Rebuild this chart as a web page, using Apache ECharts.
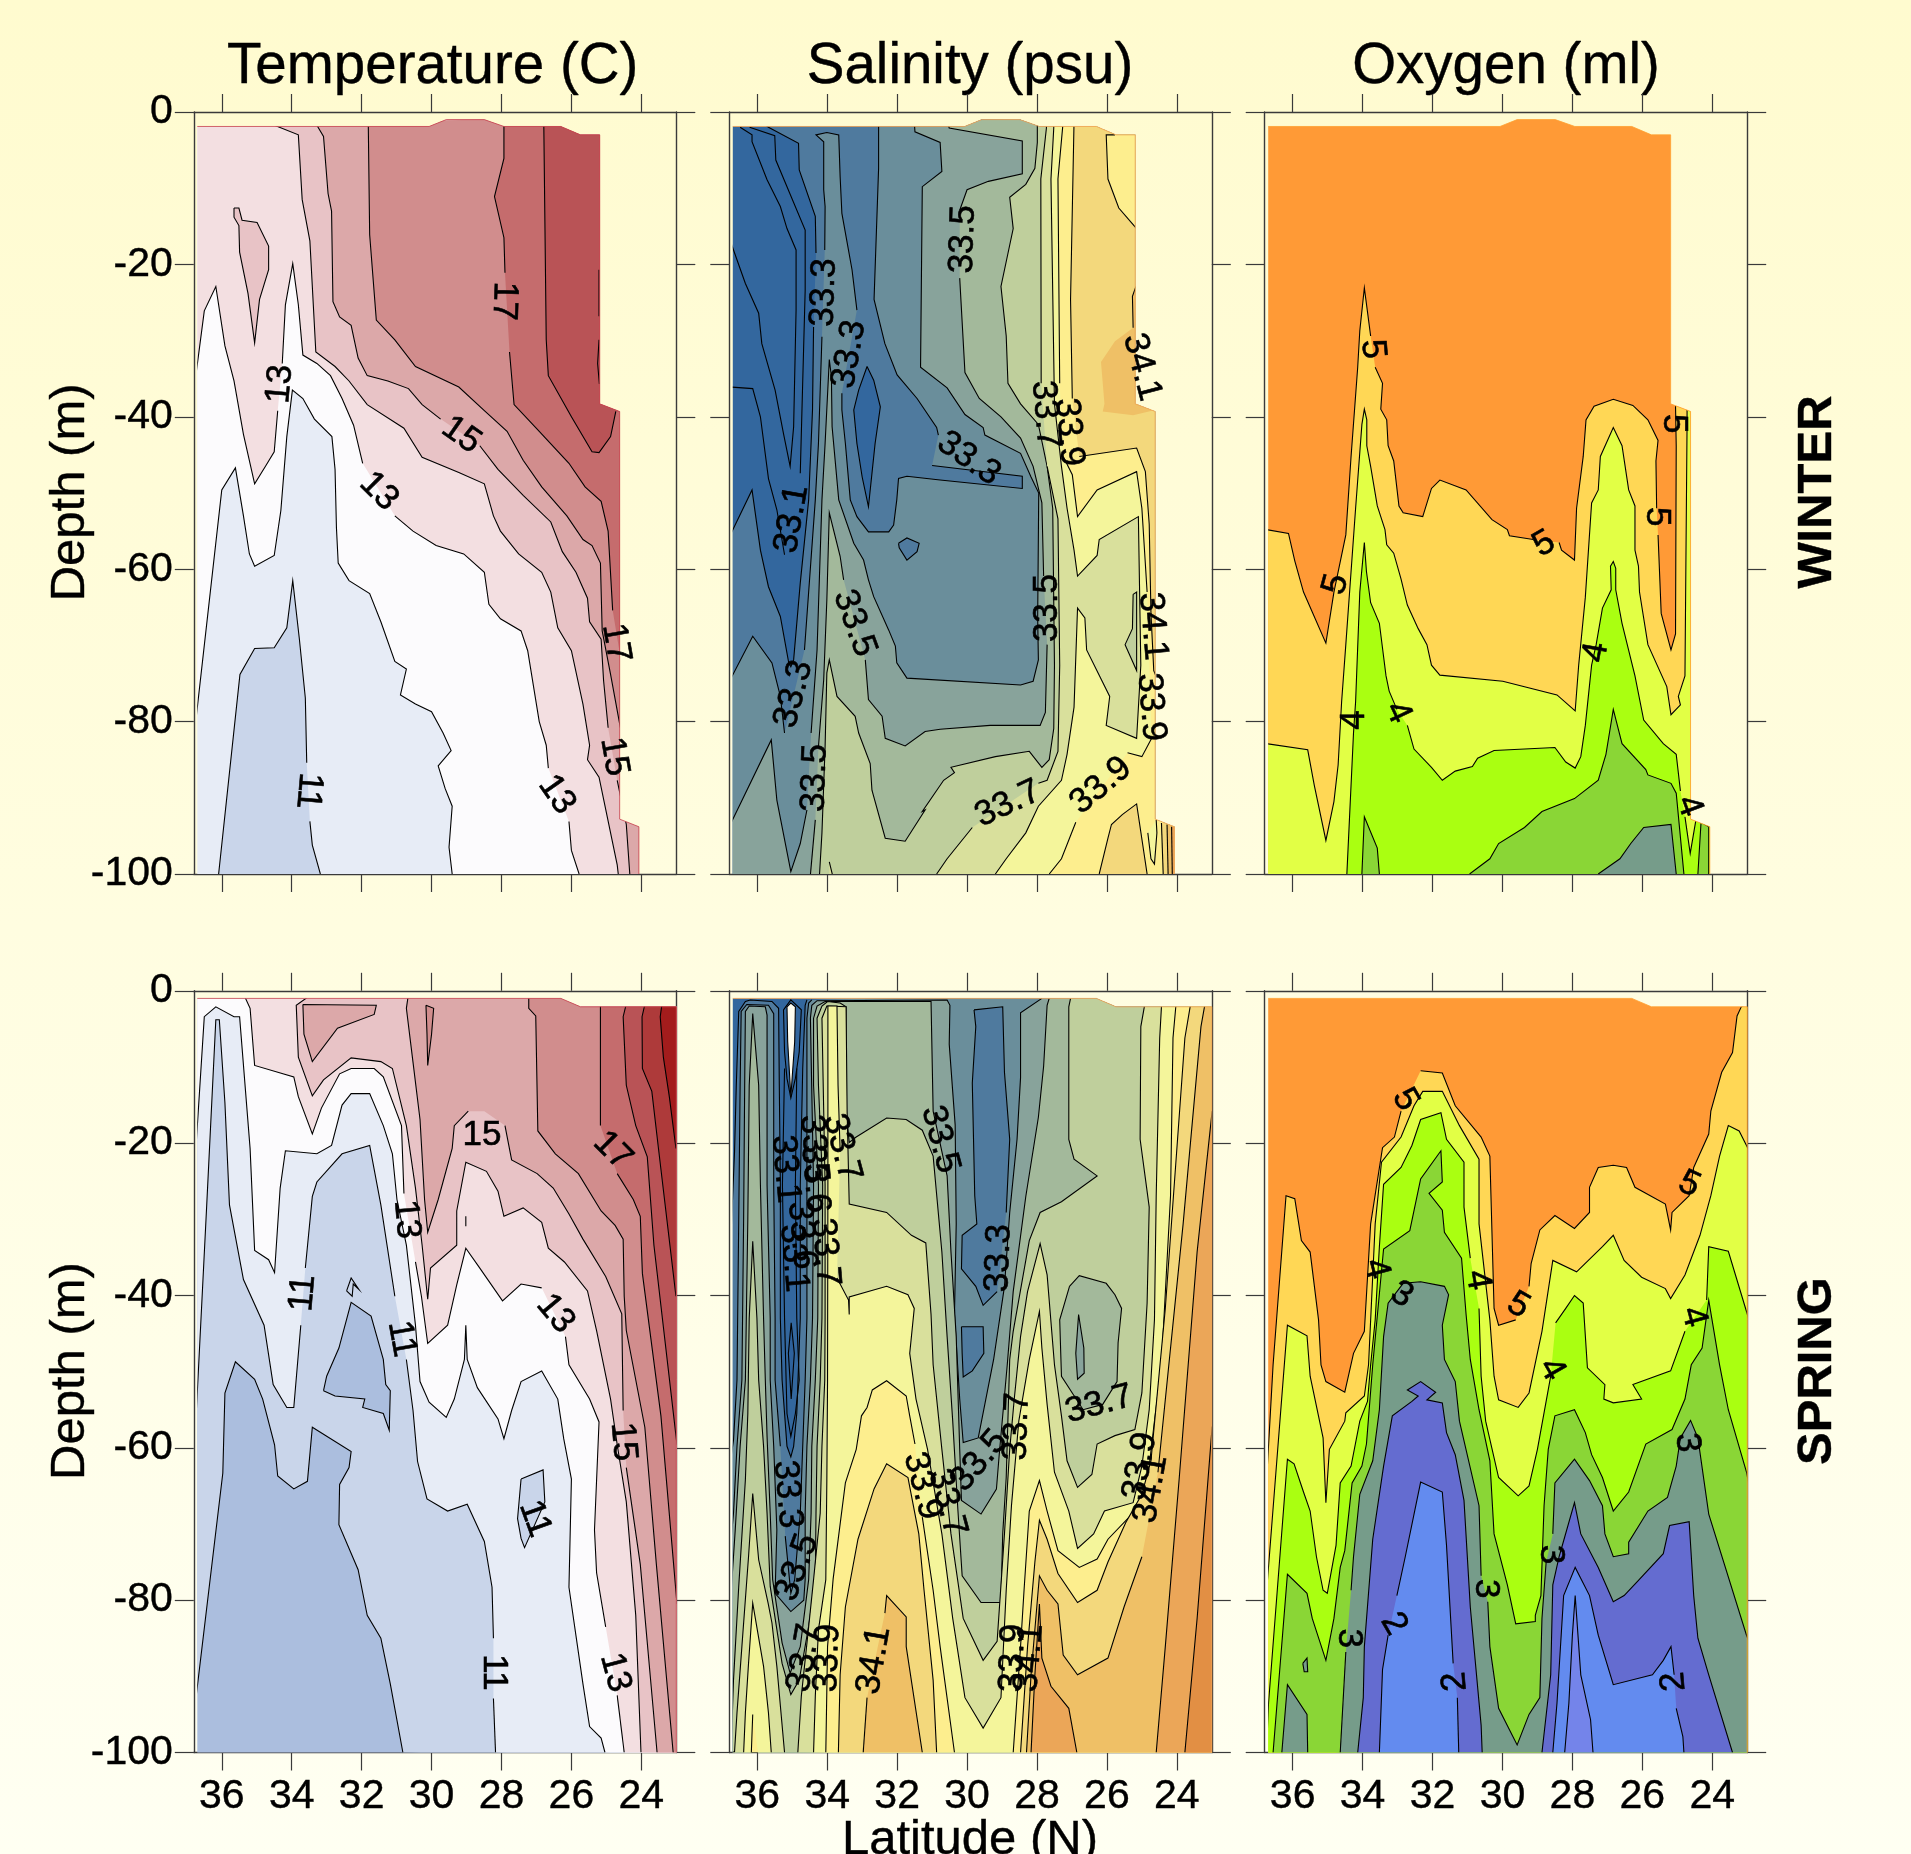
<!DOCTYPE html>
<html><head><meta charset="utf-8">
<script src="https://cdn.jsdelivr.net/npm/echarts@6/dist/echarts.min.js"></script>
<style>html,body{margin:0;padding:0;overflow:hidden}#c{width:1911px;height:1854px}</style>
</head><body><div id="c"></div>
<script>
// All contour arrays are flat lists: latitude (deg N), depth below surface (m). null = label gap in the line.
const latTicks=[36,34,32,30,28,26,24];
const depthTicks=[0,-20,-40,-60,-80,-100];
const columnTitles=['Temperature (C)','Salinity (psu)','Oxygen (ml)'];
const rowTitles=['WINTER','SPRING'];

const domWinter=[36.7,1.9,30.07,1.9,29.58,1,28.49,1,27.93,1.9,26.3,1.9,25.74,3,25.19,3,25.19,38.3,24.62,39.3,24.62,92.8,24.07,93.8,24.07,100,36.7,100];
const domSpring=[36.7,1,26.3,1,25.74,2.1,23,2.1,23,100,36.7,100];

/* ---- Winter temperature ---- */
const wt11=[36.09,100,35.48,73.8,35.06,70.4,34.50,70.3,34.14,67.7,33.97,61.5,33.78,69.2,33.61,76.9,33.57,85.4,null,33.48,93.1,33.41,96.2,33.18,100];
const wt12=[36.75,80.2,36,49.6,35.61,46.7,35.38,53,35.21,58,35.06,59.6,34.5,58.2,34.31,52.3,34.14,42.6,33.98,36.5,33.68,37.6,33.35,40.3,32.85,42.6,32.76,46.9,32.72,54.6,32.67,59.2,32.36,61.5,31.77,63.2,31.45,66.9,31.05,72.1,30.72,73.1,30.89,76.5,30.46,77.7,30,78.7,29.67,81.5,29.44,83.8,29.81,85.8,29.61,88.8,29.41,91.1,29.5,96.5,29.41,100];
const wt13=[36.75,34.9,36.5,26.1,36.17,22.9,35.91,30.7,35.65,35.3,35.38,42.3,35.06,48.8,34.75,46.5,34.5,44.6,34.4,39.2,null,34.27,33,34.18,25.3,33.97,19.9,33.81,25.3,33.68,31.9,33.28,33,32.89,34.6,32.56,37.6,32.23,41.1,31.97,46.1,null,31.05,53,30.53,55,29.87,56.9,29.08,58,28.49,60.4,28.36,64.6,28.03,66.5,27.44,68.1,27.25,70.7,26.92,80,26.72,83.1,26.66,86.1,null,26.07,93.1,26,96.9,25.78,100];
const wt14=[34.62,1.5,33.81,3,33.7,11.5,33.48,16.9,33.31,31.5,32.76,33.4,32.36,35.3,31.84,38.4,30.79,41.5,30.27,45.3,29.22,47.3,28.49,48.8,28.23,53,28.03,55,27.51,58,26.85,60.4,26.59,63,26.39,67.7,26,70.7,25.67,77.7,25.48,83.1,25.54,85,25.21,87.3,24.69,98.8,24.66,100];
const wtIsland=[35.65,12.6,35.51,12.6,35.42,14.2,34.99,14.5,34.66,17.6,34.66,20.7,34.92,24.6,35.06,30.3,35.25,23.8,35.49,18.4,35.51,14.9,35.65,13.8,35.65,12.6];
const wt15=[33.31,1.5,33.09,3.2,32.96,10.7,32.86,13,32.82,24.9,32.63,26.9,32.3,28,32.1,32.3,31.84,34.6,31.25,35.3,30.66,36.3,30.27,38.4,29.74,40.3,null,28.62,43.8,28.1,46.9,27.38,50.3,26.59,53.8,26.26,57.7,25.87,60.4,25.54,63.8,25.48,66.9,25.15,69.2,25.08,74.6,24.95,80.8,null,24.69,87.7,24.43,93.5,24.33,100];
const wt16=[31.81,1.5,31.77,16.1,31.58,27.3,31.05,29.9,30.46,33.4,29.22,36.1,28.49,39.2,27.84,41.9,27.38,45.7,26.85,49.2,26.13,53,25.67,56.1,25.41,56.9,25.17,59.2,25.12,68.1,24.88,73.8,24.6,80.8];
const wt17=[27.93,1.5,27.93,6.1,28.2,11.1,27.93,16.5,27.9,21.1,null,27.77,31.5,27.64,38.4,26.92,41.9,26.07,46.1,25.61,49.2,25.15,51.1,24.95,55,24.82,65.4,null,24.6,71.5];
const wt18=[26.79,1.5,26.72,29.9,26.66,34.6,26,40,25.41,44.6,25.21,44.7,24.88,42.6,24.73,39.3];
const wtDash=[25.21,20.7,25.21,26.8,null,25.21,29.9,25.25,33,25.2,35.7];
const wtLabels=[['17',27.93,24.8,-92],['13',34.33,35.7,85],['15',29.15,42.4,-35],['13',31.51,49.8,-45],['17',24.73,69.7,-80],['15',24.78,84.6,-80],['13',26.42,89.6,-55],['11',33.52,89.1,-95]];

/* ---- Winter salinity ---- */
const wsA=[36.49,2,36.15,3,36.15,3.9,35.72,8.9,35.34,12.4,35.15,15.3,34.89,18.1,34.89,26,34.96,41.3,35.06,46.5,35.25,42.2,35.49,36.5,35.87,30.4,35.96,26.4,36.34,22.5,36.75,17.2];
const wsC=[36.22,2,35.5,3.1,35.47,6.3,34.63,15.5,34.63,23.4,34.77,47.4,null,35.22,58.1,35.44,52.2,35.68,48.1,35.91,40,36.13,36.3,36.75,36.1];
const ws32=[36.75,55.3,36.15,49.6,35.91,57.5,35.68,62.3,35.34,66.2,35.1,72.3,35.04,72.8,34.96,71.9,34.77,61.8,34.53,50.9,34.42,39.1,34.39,28.2,null,34.32,18.5,34.34,13.7,34.8,7.6,34.82,4.1,35.68,2,35.77,1.7];
const ws33=[36.75,74.3,36.13,68.8,35.58,72.3,35.34,76.7,35.22,81.5,null,34.65,70.6,34.34,50.9,34.25,43.5,34.15,29.5,null,34.07,18.1,34.06,12.4,34.1,10.2,34.1,3.9,34.32,3,34.01,2.7,33.67,3,33.63,8.5,33.58,13.3,33.29,20.7,33.15,26,null,33.58,36.9,33.58,39.1,33.48,43.5,33.34,50.9,33.15,53.1,32.82,55.1,32.24,55.1,32.1,54.2,32.01,50.9,31.96,48.1,31.72,47.8,30.77,48.3,28.42,49.4,28.42,47.8,31,46.4,null,30.82,42.4,30.87,41.4,31.43,37.6,32,34.5,32.35,30.4,32.66,24.6,32.53,7.4,32.53,1.2];
const ws34=[36.75,93.3,35.6,82.4,35.44,90.3,35.04,99.7,34.77,96,34.58,91.6,null,34.46,81.5,34.29,70.6,34.15,50.9,34.06,43.5,33.94,32.5,33.88,34.7,33.86,41.3,33.67,50.9,33.24,56.6,32.96,58.8,32.82,61.4,32.67,63.6,32.24,68,32.05,70.1,32.01,72.3,31.72,74.3,28.47,75.2,28.11,74.7,27.96,71.9,27.98,66.4,27.95,50,28.17,47.9,28.47,44.8,29.49,42.4,29.54,41.4,30.06,39.7,30.57,36.2,31.33,33.5,31.28,9.8,30.72,7.8,30.77,4,31.49,2.6,31.51,1.2];
const ws35=[34.48,100.1,34.34,92.9,null,34.25,83.3,34.1,74.5,34.01,64,33.94,52.6,33.63,58.3,33.53,61.4,null,32.91,71.9,32.82,77.1,32.43,79.3,32.34,82.2,31.77,83.2,31.2,81.3,30.77,81,29.34,80.5,27.91,80.5,27.76,78.8,27.71,69.9,null,27.81,60.9,27.86,51.3,28.11,46.5,28.47,42.8,29.03,40,29.65,37.6,30.06,34.2,30.21,21.8,null,30.21,12.9,30,10.2,29.39,9.1,28.42,8.1,28.42,3.8,30.51,2.1,30.57,1.2];
const ws36=[34.22,100.1,34.15,94.6,34.06,83.3,34.01,73.6,33.94,71.9,33.72,76.7,33.2,79.3,33.1,81.5,32.77,85.5,32.72,89,32.34,95.3,31.77,95.7,31.2,91.6,31.28,91.8,30.67,87.7,30.36,86.7,30.46,86,29.19,84.6,28.22,83.9,27.86,86,27.65,85,27.52,80.9,27.5,72.6,27.55,52,27.71,46.5,27.96,41,28.47,38.3,28.83,35.6,28.88,29.4,29.03,22.9,28.68,15.3,28.78,11.2,28.32,9.5,28.06,7.4,27.99,4,27.99,1.2];
const ws37=[30.87,100,30.57,98,29.85,93.9,null,27.96,88.1,27.71,87.7,27.4,83.9,27.35,72.6,27.4,53.4,27.71,46.5,null,27.88,35.6,27.89,8.8,27.73,2.1,27.73,1.2];
const ws38=[29.19,100,28.88,98,28.32,94.6,27.96,91.1,27.3,87.7,27.14,84.3,26.94,78.1,26.84,65.1,26.63,66.4,26.58,70.6,25.92,76.7,26.02,80.5,25.15,82.2,25.03,72.6,25.1,53.1,26.22,56.1,26.28,58.2,26.84,60.9,26.94,57.5,27.14,52,27.3,46.5,27.5,38.3,27.6,8.8,27.52,2.1,27.52,1.2];
const wsIslandC6=[25.25,63.3,25.15,63,25.15,73.3,25.48,69.9,25.27,67.8,25.25,63.3];
const ws39=[27.25,1.2,27.4,8.8,27.35,35.6,null,27.25,45.2,26.99,47.6,26.84,53.1,26.28,49.6,25.15,47.2,25,52,24.85,63,null,24.72,82.2,25,84.6,25.41,84.1,null,26.89,93.2,27.3,98,27.65,100];
const ws40=[26.94,1.2,27.04,24.6,26.99,37.6,null,26.79,45.2,25.15,44.1,24.9,47.2,24.79,54.1,24.74,65.8,24.66,73.3,24.54,74.7];
const ws40b=[26.22,100,25.97,95.3,25.87,93.5,25.56,92.2,25.15,90.8,24.85,100];
const wsTopIsland=[25.77,3,26.02,3,25.97,8.8,25.66,12.6,25.15,15.3,24.9,15.3,24.9,3];
const wsPatchLine=[25.17,22.9,25.27,24.2,25.25,28.3];
const wsPatchFill=[25.17,22.9,25.27,24.2,25.25,28.3,25.77,30.1,26.17,32.8,26.07,38.3,26.12,39.3,25.25,39.8,24.62,39.1,24.5,25];
const wsStripe1=[24.44,93.3,24.39,100,24,100,24,93.3];
const wsStripe2=[24.28,93.5,24.25,100,24,100,24,93.5];
const wsStripe3=[24.15,93.8,24.13,100,24,100,24,93.8];
const wsWedge=[24.83,94.6,24.74,98,24.64,98.7,24.57,94.6,24.59,92.9];
const wsSmallC3=[31.96,56.6,31.72,55.9,31.37,56.6,31.43,57.7,31.72,58.8,31.94,57.2,31.96,56.6];
const wsDarkIsland=[32.86,33.4,32.67,35.2,32.48,38.7,32.63,43.5,32.82,51.8,33,47.9,33.15,43.5,33.24,39.1,33.1,36.5,32.86,33.4];
const wsTinyC7=[33.94,98.4,33.85,100.1,33.94,100.1];
const wsLabels=[['33.5',30.11,16.7,88],['33.3',34.09,23.7,88],['33.3',33.37,31.8,80],['33.7',27.76,39.7,-85],['33.9',27.09,42,-85],['33.3',29.95,45.5,-35],['33.1',35.01,53.4,80],['33.5',33.22,67.1,-70],['33.5',27.71,65.1,90],['34.1',25,33.5,-75],['34.1',24.69,67.5,-85],['33.9',24.74,78.1,-85],['33.3',34.96,76.4,75],['33.5',34.35,87.4,88],['33.7',28.83,90.8,25],['33.9',26.17,88.4,40]];

/* ---- Winter oxygen ---- */
const wo50=[36.75,54.8,36.12,55.3,35.94,58.9,35.69,63,35.05,69.7,34.82,63,34.48,55.5,34.33,45.2,34.14,33.5,34.08,28.7,33.95,23.1,33.77,29.4,null,33.64,33.5,33.43,35.6,33.48,39,33.31,40.4,33.27,43.8,33.11,45.8,32.96,51.7,32.84,52.6,32.28,53.1,32.03,49.4,31.79,48.3,31.04,49.6,30.3,53.5,29.86,54.8,29.8,55.6,29.12,56.1,null,28.38,56.5,28.31,57.5,27.94,58.8,27.88,52,27.69,45.2,27.61,40.4,27.38,38.6,26.83,37.7,26.27,38.5,25.84,40.4,25.55,43.1,25.61,45.8,25.59,52,null,25.55,55.5,25.46,65.8,25.18,70.6,25.05,68.5,25.03,43.8,25.05,38.6];
const wo45=[36.75,82.9,35.57,83.7,35.38,88.4,35.05,95.6,34.82,90.5,34.7,85.7,34.6,77.4,34.48,69.9,34.2,52,34.02,41,33.95,39,33.88,40.4,33.88,43.8,33.77,46.5,33.58,51.7,33.36,54.8,33.31,56.8,33.11,57.9,32.9,61.3,32.72,64.7,32.41,67.8,32.16,69.9,32.03,72.6,31.79,73.9,29.99,74.7,28.44,76.5,27.92,78.6,27.82,72.6,27.63,63.7,27.45,51.3,27.26,49.6,27.2,45.2,26.83,41.4,26.58,43.8,26.39,49.6,26.21,51.7,26.21,57.5,26.11,59.6,26.08,63,25.84,69.9,25.3,75.4,25.18,79.1,24.91,77.8,24.97,76.7,24.78,74,24.72,41,24.72,39];
const wo40=[34.45,100,34.26,81.5,34.2,77.4,34.08,63,33.95,56.5,33.89,60.3,33.77,64.4,33.52,67.1,33.33,74,33.24,76,33.02,78.4,null,32.72,80.5,32.53,83.6,32.03,86,31.72,87.7,31.35,86.5,30.86,85.9,30.71,84.8,30.24,83.8,28.5,83.4,28.19,85.3,27.92,86.1,27.76,84.6,27.63,80.5,27.45,72.6,27.32,69.9,27.14,65.1,26.89,62.7,26.91,59.6,26.83,59,26.76,59.9,26.76,62.7,26.58,67.1,26.21,74,25.96,79.8,25.4,82.9,25.03,84.3,24.91,89.1,null,24.78,92.5,24.63,97.3,24.47,93];
const wo35=[30.94,100,30.36,98,30.11,96,29.37,93.9,28.87,91.8,27.94,90.1,27.26,87.7,27.04,84.3,26.83,78.4,26.58,82.9,25.9,86.3,25.84,87,25.18,88.1,25.03,89.4,24.81,100];
const wo35b=[34.02,100,33.95,92.5,33.58,96.6,33.52,100];
const wo35c=[24.41,100,24.32,93.2,24.1,93.8,24.1,100];
const wo30=[27.26,100,26.64,98,26.33,96,25.96,93.9,25.18,93.5,25.03,100];
const woLabels=[['5',33.71,31.1,-85],['5',34.76,62,75],['5',28.81,56.7,30],['5',25.09,40.9,-90],['5',25.59,53.1,-90],['4',34.23,79.8,90],['4',32.99,78.8,-65],['4',27.32,70.9,80],['4',24.66,91.1,-70]];

/* ---- Spring temperature ---- */
const st10=[36.75,93.3,35.97,63.3,35.91,52.8,35.61,48.7,35.06,51,34.83,53.6,34.49,59.6,34.4,63.7,33.94,65.4,33.55,64.4,33.41,57.3,32.3,60.5,32.36,62.6,32.63,64.8,32.65,70.1,32.1,76,31.84,82,31.45,85,31.18,91,30.82,100];
const stIsle10=[33.09,52.5,33,50.6,32.65,46.9,32.3,40.9,31.73,42.7,31.38,48.4,31.31,51.7,31.18,52.5,31.21,57.7,31.38,55.5,31.97,54.7,31.91,53.6,32.76,53.2,33.09,52.5];
const stIsle10b=[32.43,39.4,32.3,37.7,32.08,39.2,32.24,38.5,32.27,40.1,32.43,39.4];
const st11=[36.75,57.3,36.43,28.1,36.17,3.8,36.07,3.8,35.91,14.7,35.78,28.1,35.38,37.9,34.79,43.9,34.53,51.7,34.14,54.7,33.94,54.7,33.74,43.9,null,33.61,36.4,33.41,27,33.28,25.1,32.56,21.4,31.77,20.3,31.45,28.1,31.05,40.1,null,30.72,48.4,30.53,55.1,30.4,61.8,30.13,66.7,29.54,68.3,28.98,67.4,28.49,72.3,28.27,78.3,28.23,85,null,28.23,92.9,28.17,100];
const stIsle11=[27.44,64.1,26.81,62.9,26.76,67.1,27.34,73.1,27.44,71.9,27.54,69.3,27.44,64.1];
const st12=[36.75,21.4,36.5,3.4,36.17,2.1,35.65,3.4,35.49,3.4,35.19,20.7,35.06,34.1,34.66,35.3,34.49,37,34.33,25.9,34.18,21,33.28,21.4,32.86,20.3,32.56,15,32.3,13.5,31.77,13.5,31.38,17.7,31.12,21.4,30.99,27.4,30.72,33.4,30.46,43.9,30.33,51.3,30.07,54,29.58,56,29.35,53.6,29.06,48.4,29.02,43.9,28.98,48.4,28.69,52.1,28.1,56.2,27.93,58.8,27.71,55.1,27.44,51.3,26.85,49.9,26.39,53.6,26.22,58.8,26,64.1,26.07,78.3,25.67,91,25.48,96.6,25.15,98.1,25.04,100];
const st13=[35.38,0.4,35.19,2.3,35.06,9.8,33.94,11.3,33.81,13.9,33.41,18.8,33.15,15.4,32.63,10.9,32.3,10.2,31.64,10.2,31.38,11.3,30.86,17.7,30.79,26.6,null,30.46,35.6,30.29,40.1,30.11,46.3,29.54,43.9,29.28,38.6,29.02,33.8,28.62,36.4,27.97,40.7,27.44,38.5,26.85,39,null,26.17,45.4,26.07,49.1,25.48,53.6,25.21,56.6,25.34,70.8,25.28,76.4,25.02,83.5,null,24.69,92.5,24.49,100];
const stTick13=[29.02,29.6,29.02,30.9];
const st14=[33.41,0.4,33.87,1.9,33.81,8.7,33.41,13.8,33.09,11.7,32.3,8.8,31.45,9.3,31.12,10.2,30.72,17.7,30.46,25.9,30.27,33.4,30.11,40.5,30.03,36.4,29.28,33.4,29.28,28.9,29.02,22.5,28.43,23.7,28.1,26.3,27.93,29.6,27.38,28.5,26.85,30.4,26.66,33.8,26.2,35.6,25.54,39.4,25.28,44.6,24.88,53.6,24.69,59.6,24.43,67.1,24.16,82,24.01,100];
const stIsle15=[33.68,1.8,31.58,1.9,31.64,3.1,32.69,4.9,33.41,9.3,33.65,5.7,33.68,1.8];
const st15=[30.66,0.4,30.72,2.3,30.53,9.4,30.33,16.9,30.2,27.4,30.11,31.7,29.81,27.4,29.41,20.7,29.35,17.7,28.95,15.8,null,28.49,15.8,null,27.9,17.7,27.71,22.2,26.98,24,26.52,25.9,26.07,29.3,25.67,32.6,25.02,37.5,24.56,42.4,24.52,55.1,null,24.43,62.6,24.03,75.3,23.55,100];
const stIsle16=[30.16,1.9,29.94,2.3,30,5.7,30.11,9.8,30.13,5.7,30.16,1.9];
const st16=[27.22,0.4,27.22,2.3,27.02,3.3,26.96,18.4,26.46,21.4,25.8,24,25.15,28.9,24.75,30.8,24.52,32.6,24.49,40.1,24.43,44.6,23.9,57.3,23.57,75.3,23.09,100];
const st17=[25.17,0.4,25.17,17.7,null,24.69,24,24.23,27.4,24.03,29.6,23.97,37.1,23.44,55.8,22.98,80.5];
const st18=[24.36,0.4,24.52,3.4,24.43,12.4,24.16,17.7,23.83,21.8,23.64,33.4,22.98,59.6];
const st19=[23.83,0.4,23.98,3.4,23.97,10.2,23.7,13.2,23.51,20.7,23.01,40.1];
const st20=[23.37,0.4,23.46,3.4,23.37,8.7,23.2,13.9,23.01,20.7];
const stLabels=[['11',33.68,39.7,85],['11',30.86,45.7,-80],['11',28.23,89.5,-90],['11',27.05,69.3,-70],['13',30.72,30,-85],['13',26.46,42.4,-50],['13',24.75,89.5,-75],['15',28.56,19,0],['15',24.52,59.2,-85],['17',24.82,21,-45]];

/* ---- Spring salinity ---- */
const ss32=[36.75,32,36.65,21.1,36.6,12.4,36.53,2.7,36.34,1.4,36.2,1.2,35.58,1.4,35.39,2.3,35.37,12.4,35.34,25.5,35.34,43,35.29,51.1,35.15,59.8,35.04,61.2,34.96,59.8,34.87,55.5,34.77,43,34.77,25.5,34.7,10.2,34.63,1.9,34.58,1.2];
const ss33=[36.75,61.2,36.68,59,36.58,51.1,36.53,29.9,36.49,12.4,36.46,2.7,36.3,1.8,35.68,1.9,35.53,3,35.53,25.5,35.49,43,35.49,51.1,35.34,59.8,null,35.2,71.6,35.04,79.1,34.93,77.3,34.77,68.6,34.7,59.8,34.63,51.1,34.58,43,34.58,25.5,34.58,3.6,34.53,1.6,34.44,1.2];
const ss34=[36.75,72.1,36.68,68.6,36.58,59.8,36.44,51.1,36.39,29.9,36.36,12.4,36.34,2.7,36.23,2,35.77,2.1,35.72,3.2,35.72,25.5,35.63,43,35.63,51.1,35.53,59.8,35.44,70.8,35.49,79.1,35.04,81.5,34.67,80,34.63,77.3,34.63,68.6,34.58,59.8,34.48,51.1,34.42,43,34.39,25.5,34.48,3.6,34.44,1.9,34.29,1.3,30.57,1.2,30.49,1.9,30.51,7,30.34,17.6,30.31,30.6,30.36,42.5,30.21,53.6,30.11,59.3,29.68,58.7,29.24,48.4,28.93,38.8,28.78,29.1,28.57,19.5,28.47,11.4,28.47,2.9,27.86,1];
const ss35=[36.75,79.1,36.63,70.8,36.49,59.8,36.34,51.1,36.27,29.9,36.23,12.4,36.13,3,35.96,12.4,35.91,25.5,35.82,43,35.77,51.1,35.72,58.5,35.63,68.6,35.56,77.3,35.29,85.6,35.06,89.6,34.77,86.1,34.53,77.3,34.46,68.6,34.44,59.8,34.34,51.1,34.27,43,34.25,25.5,34.39,12.4,34.39,3.6,34.29,2,34.06,1.4,33.53,1.4,31.03,1.4,30.97,15.8,30.57,24.3,30.46,34.3,30.31,45.4,30.21,60.2,30.16,66.9,29.6,68.7,29.16,65.4,29.08,60.9,28.85,49.1,28.68,39.5,28.32,27,27.96,16.6,27.81,9.9,27.71,1.9,27.65,1];
const ss36=[36.75,99.9,36.68,90.5,36.53,78.2,36.34,64.2,36.27,55.5,36.23,43,36.13,32.9,36.01,43,35.96,51.1,35.82,59.8,35.72,68.6,35.63,78.2,35.29,88.3,35.04,92.4,34.8,90.5,34.53,83.4,34.34,77.3,34.32,68.6,34.29,59.8,34.2,51.1,34.15,43,34.13,25.5,34.25,12.4,34.29,3.6,34.15,2,33.99,1.4,33.63,1.6,33.46,2.1,33.46,15.8,33.37,19.9,33.17,19.2,32.3,16.7,31.74,16.9,31.28,18.3,30.97,21.7,30.72,34.3,30.57,45.4,30.41,56.5,30.26,68.3,30.14,76.8,29.6,80.3,29.03,80.3,28.98,71.3,28.88,63.9,28.78,48.4,28.68,44.7,28.22,32.8,27.91,29.1,27.3,27.7,26.28,24.3,26.94,22.1,27.09,19.5,27.09,2.1,27.04,1];
const ss37w=[36.75,100,36.65,99.9,36.58,94.8,36.44,86.1,36.25,74.3,36.13,66,35.96,74.7,35.69,80.4,35.58,83,35.44,88.7,35.22,100];
const ss37e=[34.84,100,34.74,92.6,34.53,83.5,34.39,77.3,34.2,68.6,34.15,59.8,34.07,51.1,34.06,43,34.06,25.5,34.15,3.6,34.01,2,33.46,2.1,33.43,15.8,33.37,28,32.3,29.1,31.59,32.1,31.18,33.1,31.03,42.5,30.97,49.1,30.72,60.2,30.46,71.3,30.11,82.4,29.54,87.9,29.14,85.4,28.93,71.3,28.78,60.2,28.65,53.6,28.47,45.4,28.27,39.5,27.91,33.2,27.71,37.3,27.5,49.1,27.3,55.8,27.14,61.7,26.84,65.2,26.43,63.5,26.28,59.5,25.77,58.4,25.2,57.6,25,52.8,24.85,41,24.79,28.4,25.05,19.5,25.03,4.7,24.93,2.1,24.9,1];
const ss38w=[36.39,100,36.34,94.8,36.25,88.3,36.13,80.4,35.82,88.7,35.68,94.8,35.6,100];
const ss38e=[34.39,100,34.34,92.6,34.25,83.9,34.04,77.3,34.01,64.2,33.99,51.1,33.98,25.5,33.98,2,33.72,2,33.69,12.4,33.63,21.1,null,33.72,37.7,33.39,40.6,33.37,42.5,33.37,40.2,32.3,38.8,31.69,39.9,31.51,41.7,31.64,47.6,31.46,53.6,31.13,60.2,30.72,71.3,30.41,82.4,30.06,92.8,29.54,96.8,29.03,92.8,28.88,78.7,28.73,67.6,28.52,56.5,28.22,48.4,27.93,42.1,27.86,46.9,27.71,54.3,27.5,63.2,27.09,68.3,26.84,73.2,26.38,71.3,26.07,68.3,25.25,67.2,25,62.4,24.79,55,24.64,43.2,24.59,26.9,24.49,6.2,24.44,2.1,24.39,1];
const ss39w=[36.13,95,36.17,100,35.98,100];
const ss39c=[34.04,100,33.99,86.1,33.83,77.2,33.48,64.6,33.17,60.2,33.02,55.8,32.86,54.7,32.71,52.4,32.3,51.2,31.74,53.2,31.64,55.8,31.49,59.5,null,31.28,69.1,30.97,78.7,30.77,86.1,30.36,100];
const ss39e=[28.68,100,28.47,86.1,28.37,78.7,28.22,68.3,27.93,64.3,27.71,68.3,27.4,73.5,26.79,75.7,26.28,74.6,25.97,72,25.05,67.6,24.79,62.4,24.64,56.5,24.44,49.1,24.18,26.9,24.11,6.2,24.03,2.1,23.98,1];
const ss40c=[33.68,100,33.63,89.8,33.48,80.9,33.12,72,32.66,65.4,32.3,62.1,31.69,63.9,31.38,71.3,31.23,78.7,30.97,90.5,30.87,100];
const ss40e=[28.47,100,28.27,86.1,28.06,75,27.93,69.5,27.71,72,27.4,76.5,26.84,80.3,26.28,78.7,25.97,75,25.46,69.8,25,66.1,24.74,61.7,24.33,41.7,23.77,6.2,23.62,2.1,23.57,1];
const ss41c=[32.97,100,32.86,92.8,null,32.35,81.7,32.3,79.4,31.74,82.2,31.74,86.1,31.28,100];
const ss41e=[28.3,100,28.17,89.8,27.93,76.8,27.71,78.7,27.4,80.5,27.25,87.2,26.84,89.8,25.97,87.6,25.51,80.9,25,74.3,null,24.54,63.2,23.82,30.6,23.31,4.7,23.21,2.1,23.16,1];
const ss42w=[28.17,100,28.06,89.8,27.93,80.5,27.86,87.6,27.6,91.3,27.09,94.2,26.86,100];
const ss42e=[24.59,100,24.33,86.1,23.93,63.9,23.42,34.3,22.99,15.8];
const ss43=[23.77,100,23.42,82.4,22.99,57.2];
const ssIsleC5=[27.07,38.8,26.79,37.4,26.02,38.4,25.77,39.9,25.58,41.7,25.68,46.2,25.71,51.3,26.12,54.3,26.68,55,27.3,50.6,27.35,43.2,27.07,38.8];
const ssIsleC4=[26.81,42.5,26.66,46.9,26.65,50.2,26.84,51,26.89,47.6,26.81,42.5];
const ssBlue1=[29.8,2.5,28.98,2.1,28.93,10.7,28.78,19.5,28.88,29.1,null,29.14,39.5,29.54,41.3,29.75,38.8,30.16,36.5,30.14,32.1,29.72,30.6,29.78,26.9,29.85,12.1,29.75,4.7,29.8,2.5];
const ssBlue2=[30.16,44.1,29.54,44.1,29.52,47.6,29.85,49.9,30.11,50.7,30.14,47.6,30.16,44.1];
const ssInner31=[35.22,10.2,35.28,25.5,35.22,43,35.15,55.5,35.04,58.5,34.91,55.5,34.8,51.1,34.87,43,34.91,25.5,34.87,10.2];
const ssArc=[35.25,2.5,35.04,1.2,34.74,2.5,34.8,8,34.91,11.5,35.04,14.1,35.15,11.5,35.22,8,35.25,2.5];
const ssWhite=[35.15,2.1,35.04,1.6,34.91,2.1,34.93,6.7,35.04,13.9,35.13,6.7,35.15,2.1];
const ssSpindle=[35.03,43.6,35.11,47.6,35.03,53.6,34.94,47.6,35.03,43.6];
const ssLabels=[['33.1',35.2,23.4,-85],['33.5',34.39,20.7,-85],['33.7',33.58,20.6,-75],['33.6',34.35,24.7,-85],['33.6',34.73,32.1,-85],['33.1',34.96,35.1,-85],['33.7',34.06,34.3,-85],['33.5',30.77,19.5,-75],['33.3',29.09,35.1,88],['33.7',26.22,54.3,15],['33.5',29.65,61.7,50],['33.7',28.57,57.2,88],['33.9',31.28,65,-75],['33.7',30.57,67.2,-75],['33.9',25.05,62.4,80],['34.1',24.74,65.4,80],['33.3',35.14,66.1,-85],['33.5',34.86,75.7,70],['33.7',34.65,87.6,80],['33.9',33.99,87.6,88],['34.1',32.66,87.9,80],['33.9',28.68,87.6,88],['34.1',28.22,87.6,85]];

/* ---- Spring oxygen ---- */
const so50=[36.75,64.6,36.56,49.1,36.19,26.9,35.94,27.3,35.75,32.8,35.5,34.3,35.26,43.2,35.19,49.1,35.05,51.3,34.51,52.7,34.26,47.6,33.95,44.7,33.77,30.6,33.43,20.6,33.09,19.2,32.9,15.8,null,32.34,10.5,31.72,10.8,31.35,15.1,30.61,19.2,30.36,21.7,30.24,41.7,30.11,43.9,29.62,43.2,null,29.24,38.8,29.18,35.8,28.93,31.4,28.5,29.5,27.94,31.2,27.51,29.1,27.51,25.8,27.26,23.2,26.83,22.9,26.45,23.2,26.21,25.8,25.34,28,25.19,31.4,25.15,29.1,24.66,26.9,24.53,23.2,24.1,18.8,24.04,15.8,23.73,10.7,23.42,8.1,23.29,3.3,23.17,2.1,23.05,1.8,22.9,1.8];
const so45=[36.75,79.1,36.15,43.9,35.59,45.3,35.5,50.6,35.13,58.7,35.05,67.2,34.95,60.2,34.51,56.5,34.48,55.4,33.95,53.2,33.83,49.1,33.64,30.6,33.46,22.5,32.9,19.2,32.53,15.1,32.28,13.2,31.72,13.2,31.23,17.7,30.67,22.1,30.67,30.6,30.36,43.2,30.24,50.6,30.11,53.7,29.55,54.7,29.24,52.8,28.87,44.7,28.56,35.4,27.88,36.9,27.14,33.6,26.83,32.1,26.52,35.4,26.02,37.6,25.34,39.1,25.19,40.4,24.78,37.3,24.35,32.1,24.04,26.9,23.79,21.7,23.54,17.7,23.23,18.4,23.02,20.3,22.9,21.5];
const so40=[36.75,100,36.69,93.5,36.15,61.5,35.96,62.1,35.69,65.8,35.5,68.3,35.32,74.3,35.13,78.7,35.01,79.1,34.76,72.8,34.64,64.6,34.33,62.4,34.08,56.5,33.86,53.9,33.77,49.1,33.64,43.2,33.52,33.6,33.4,25.4,32.9,23.2,32.59,20.3,32.34,16.9,31.76,16,31.6,19.5,31.1,22.5,31.1,28.4,30.92,35.1,null,30.67,41.7,30.61,50.6,30.48,56.5,30.11,63.9,29.55,66.3,29.24,65,29,60.2,28.62,50.6,null,28.48,43.6,28.19,41.7,27.94,40,27.69,41,27.57,49.5,27.07,51.7,27.1,53.6,26.83,54.1,26.02,53.6,26.27,51.7,25.19,49.9,24.78,44.7,null,24.16,40.6,24.1,33.6,23.54,34.2,23.02,42.1,22.9,44];
const so35=[36.56,100,36.15,76.6,35.59,79.1,35.44,82.4,35.05,87.9,34.82,82.4,34.64,75.7,34.51,73.5,34.3,64.6,34.02,62.4,33.89,59.5,33.71,49.1,33.4,33.9,32.65,31.5,32.34,24.7,31.76,21,31.72,25.1,32.1,26.6,31.72,28.8,31.66,31.7,31.17,35.1,31.04,42.5,30.92,48.4,30.67,55,30.36,61.7,30.24,71.3,29.86,78,29.62,83.1,29.06,82.8,29.06,82,28.9,79.4,28.81,67.6,28.69,60.2,28.5,55.8,27.94,55,27.63,58,27.45,60.9,27.14,63.9,26.83,68.3,26.39,65.8,25.9,59.5,25.15,57.6,24.78,53.6,24.6,49.1,24.29,46.9,24.1,40.6,23.79,49.1,23.54,55,23.02,63.2,22.9,66];
const so30=[34.64,100,34.48,86.8,null,34.33,78.7,34.26,74.3,34.08,66.1,33.71,61.7,33.52,55,33.4,45.4,33.27,41,32.84,38.4,32.34,38.2,31.66,38.8,31.54,39.9,31.72,43.9,31.66,48.4,31.35,51.3,31.23,56.5,30.67,67.6,30.61,76.8,null,30.42,80.2,30.36,86.1,30.11,94.2,29.58,99,29.24,95,28.93,92.8,28.87,82.4,28.75,75,null,28.56,71.3,28.5,64.6,27.94,61.5,27.51,64.3,27.14,67.6,27.07,71.3,26.83,74.3,26.39,73.9,26.39,72.4,25.84,68.3,25.28,66.5,25.03,62.4,24.91,58.7,24.62,56.4,24.41,58.7,24.1,68.7,23.02,84.6,22.9,86];
const so30b=[36.31,100,36.15,91.1,35.59,95,35.57,100];
const so30c=[35.71,88.3,35.59,87.6,35.57,89.4,35.67,89.4,35.71,88.3];
const so25a=[34.14,100,33.98,92.8,33.95,86.1,33.71,72,33.4,62.4,33.15,55.8,32.59,53.9,32.41,53.2,32.72,52.4,32.34,51.3,31.91,52.7,32.16,53.7,31.72,54.1,31.6,58,31.35,60.9,31.1,66.9,30.92,80.9,30.61,96.4,30.58,100];
const so25b=[28.87,100,28.62,89.8,28.56,78,28.38,74.3,27.94,67.2,27.76,71.3,27.26,75.7,26.83,80.2,26.52,79.4,26.15,77.6,25.4,73.9,25.22,70.2,24.66,69.7,24.53,79.4,24.41,85,24.1,89.8,23.42,100];
const so20a=[33.52,100,33.43,89.1,33.27,84.6,null,33.02,79.4,32.78,74.3,32.34,64.5,31.72,65.8,31.6,72.8,31.41,88.3,null,31.29,92.8,31.25,100];
const so20b=[28.56,100,28.44,93.5,28.25,79.4,27.92,75.7,27.51,79.4,27.26,84.6,26.83,91.1,25.71,89.8,25.4,87.9,25.18,86.1,25.09,89.8,null,25.03,94.2,24.84,97.9,24.81,100];
const so15=[28.22,100,28.1,93.5,28,84.6,27.92,79.4,27.84,84.6,27.76,89.8,27.48,95.7,27.41,100];
const soLabels=[['5',32.78,14.3,-60],['5',24.66,25.4,-25],['5',29.55,41.3,-30],['4',33.61,36.5,-75],['3',32.88,39.9,-30],['4',30.71,38,-80],['4',28.59,49.7,-60],['4',24.53,42.8,-75],['3',24.72,59.3,-85],['3',28.62,74,-90],['3',30.48,78.5,-90],['3',34.39,85,-90],['2',33.11,83.1,-60],['2',31.35,90.7,95],['2',25.09,90.7,95]];

/* ---- Colours and closures ---- */
const T=['#ABBEDE','#C9D5EA','#E7ECF6','#FCFBFD','#F3DFE1','#E8C3C6','#DCA8A9','#D18D8D','#C56C6D','#B95356','#AE3A3A','#A31C1C'];
const S=['#33679E','#4F7A9E','#6A8E9B','#88A39B','#A3B99B','#BFCF9C','#D9E09C','#F4F59B','#FDEE8E','#F3D87C','#EFC066','#EBA658','#E28F44'];
const O=['#FF9A36','#FFD755','#E2FF45','#AAFF11','#8AD636','#769C8A','#646CD0','#638BEF','#7484EA'];
const AROUND=[22.9,101,22.9,0,37,0];       // end at bottom, start on left edge: keep everything above and right
const RIGHT=[22.9,101,22.9,0];             // end at bottom, start on top edge
const CW=[22.9,0,22.9,101,37,101];         // end on top edge, start on left edge
const CWR=[22.9,0,22.9,101];               // end on top edge, start at bottom
const below=d=>[22.9,d,22.9,101,37,101];
const upR=d=>[22.9,d,22.9,0];
const downR=d=>[22.9,d,22.9,101];

// [curve, closure, fill, stroke]
const panels=[
 {dom:domWinter,edge:'#C8404A',base:T[2],labels:wtLabels,layers:[
  [wt11,[],T[1],1],[wt12,AROUND,T[3],1],[wt13,AROUND,T[4],1],[wt14,RIGHT,T[5],1],[wtIsland,[],T[5],1],[wt15,RIGHT,T[6],1],[wt16,upR(80.8),T[7],1],[wt17,upR(71.5),T[8],1],[wt18,upR(39.3),T[9],1],[wtDash,null,null,1]]},
 {dom:domWinter,edge:'#F0A050',base:S[0],labels:wsLabels,layers:[
  [wsA,null,null,1],[wsC,null,null,1],[ws32,CW,S[1],1],[ws33,CW,S[2],1],[ws34,CW,S[3],1],[ws35,CWR,S[4],1],[ws36,CWR,S[5],1],[ws37,CWR,S[6],1],[ws38,CWR,S[7],1],[wsIslandC6,[],S[5],1],
  [ws39,[22.9,101,22.9,0],S[8],1],[ws40,upR(74.7),S[9],1],[ws40b,[],S[9],1],[wsTopIsland,[],S[8],1],[wsPatchFill,[],S[10],0],[wsPatchLine,null,null,1],
  [wsStripe1,[],S[9],0],[wsStripe2,[],S[10],0],[wsStripe3,[],S[11],0],[[24.44,93.3,24.39,100],null,null,1],[[24.28,93.5,24.25,100],null,null,1],[[24.15,93.8,24.13,100],null,null,1],
  [wsWedge,[],S[7],1],[wsSmallC3,[],S[1],1],[wsDarkIsland,[],S[0],1],[wsTinyC7,[],S[6],1]]},
 {dom:domWinter,edge:'#FFA030',base:O[0],labels:woLabels,layers:[
  [wo50,below(38.6),O[1],1],[wo45,below(39),O[2],1],[wo40,below(93),O[3],1],[wo35,[],O[4],1],[wo35b,[],O[4],1],[wo35c,[],O[4],1],[wo30,[],O[5],1]]},
 {dom:domSpring,edge:'#C8404A',base:T[0],labels:stLabels,layers:[
  [st10,AROUND,T[1],1],[stIsle10,[],T[0],1],[stIsle10b,[],T[1],1],[st11,AROUND,T[2],1],[stIsle11,[],T[1],1],[st12,AROUND,T[3],1],[st13,RIGHT,T[4],1],[stTick13,null,null,1],[st14,RIGHT,T[5],1],[stIsle15,[],T[6],1],[st15,RIGHT,T[6],1],[stIsle16,[],T[7],1],[st16,RIGHT,T[7],1],[st17,upR(80.5),T[8],1],[st18,upR(59.6),T[9],1],[st19,upR(40.1),T[10],1],[st20,upR(20.7),T[11],1]]},
 {dom:domSpring,edge:'#F0A050',base:S[0],labels:ssLabels,layers:[
  [ss32,CW,S[1],1],[ss33,CW,S[2],1],[ss34,CW,S[3],1],[ss35,CW,S[4],1],[ss36,CW,S[5],1],[ss37w,[],S[6],1],[ss37e,CWR,S[6],1],[ss38w,[],S[7],1],[ss38e,CWR,S[7],1],[ss39w,[],S[8],1],[ss39c,[],S[8],1],[ss39e,CWR,S[8],1],[ss40c,[],S[9],1],[ss40e,CWR,S[9],1],[ss41c,[],S[10],1],[ss41e,CWR,S[10],1],[ss42w,[],S[11],1],[ss42e,downR(15.8),S[11],1],[ss43,downR(57.2),S[12],1],
  [ssIsleC5,[],S[4],1],[ssIsleC4,[],S[3],1],[ssBlue1,[],S[1],1],[ssBlue2,[],S[1],1],[ssInner31,null,null,1],[ssArc,null,null,1],[ssWhite,[],'#FFFDF0',1],[ssSpindle,[],'#2E619B',1]]},
 {dom:domSpring,edge:'#FFA030',base:O[0],labels:soLabels,layers:[
  [so50,below(1.8),O[1],1],[so45,below(21.5),O[2],1],[so40,below(44),O[3],1],[so35,below(66),O[4],1],[so30,below(86),O[5],1],[so30b,[],O[5],1],[so30c,[],O[5],1],[so25a,[],O[6],1],[so25b,[],O[6],1],[so20a,[],O[7],1],[so20b,[],O[7],1],[so15,[],O[8],1]]}
];

/* ---- Layout ---- */
const FONT='"Liberation Sans",Arial,sans-serif';
const colLeft=[193.8,729.3,1264.7], gridW=482.5, rowTop=[112,990.8], gridH=[762,761.7];
const AXC='#3A3A3A';

function segs(arr){const out=[[]];for(let i=0;i<arr.length;){if(arr[i]===null){out.push([]);i++;}else{out[out.length-1].push([arr[i],arr[i+1]]);i+=2;}}return out;}
function flatPts(arr){return segs(arr).flat();}

const grids=[],xAxes=[],yAxes=[],series=[];
panels.forEach((p,i)=>{
  const r=Math.floor(i/3),c=i%3;
  grids.push({left:colLeft[c],top:rowTop[r],width:gridW,height:gridH[r],containLabel:false});
  const xBase=(pos,lab)=>({type:'value',gridIndex:i,position:pos,min:23,max:36.8,inverse:true,scale:true,splitLine:{show:false},
    axisLine:{show:true,onZero:false,lineStyle:{color:AXC,width:1.4}},
    axisTick:{show:true,inside:false,length:18,customValues:latTicks,lineStyle:{color:AXC,width:1.2}},
    axisLabel:{show:lab,customValues:latTicks,margin:24,fontSize:41,fontFamily:FONT,color:'#000',textBorderColor:'#000',textBorderWidth:0.4,hideOverlap:false,formatter:v=>String(v)}});
  const yBase=(pos,lab)=>({type:'value',gridIndex:i,position:pos,min:-100,max:0,interval:20,splitLine:{show:false},
    axisLine:{show:true,onZero:false,lineStyle:{color:AXC,width:1.4}},
    axisTick:{show:true,inside:false,length:19,lineStyle:{color:AXC,width:1.2}},
    axisLabel:{show:lab,margin:21,fontSize:41,fontFamily:FONT,color:'#000',textBorderColor:'#000',textBorderWidth:0.4,hideOverlap:false}});
  const xi=xAxes.length; xAxes.push(xBase('bottom',r===1),xBase('top',false));
  const yi=yAxes.length; yAxes.push(yBase('left',c===0),yBase('right',false));

  const domPts=flatPts(p.dom);
  const items=[{k:'base'}].concat(p.layers.map(l=>({k:'layer',l})),[{k:'edge'}],p.labels.map(t=>({k:'text',t})));
  series.push({type:'custom',coordinateSystem:'cartesian2d',xAxisIndex:xi,yAxisIndex:yi,animation:false,silent:true,clip:false,
    data:items.map((_,n)=>[30,-50,n]),
    renderItem(params,api){
      const it=items[api.value(2)];
      const px=q=>api.coord([q[0],-q[1]]);
      const clip={type:'polygon',shape:{points:domPts.map(px)}};
      if(it.k==='base') return {type:'polygon',shape:{points:domPts.map(px)},style:{fill:p.base}};
      if(it.k==='edge') return {type:'polyline',shape:{points:domPts.slice(0,-1).map(px)},style:{fill:null,stroke:p.edge,lineWidth:0.8}};
      if(it.k==='text'){const [s,la,d,rot]=it.t;const q=px([la,d]);
        return {type:'text',x:q[0],y:q[1],rotation:rot*Math.PI/180,style:{text:s,x:0,y:0,fontSize:35,fontFamily:FONT,fill:'#000',stroke:'#000',lineWidth:0.6,textAlign:'center',textVerticalAlign:'middle',verticalAlign:'middle'}};}
      const [curve,close,fill,stroke]=it.l;
      const kids=[];
      const parts=segs(curve);
      if(fill){
        const pts=parts.flat().concat(close&&close.length?flatPts(close):[]).map(px);
        kids.push({type:'polygon',shape:{points:pts},style:{fill,stroke:null},clipPath:clip});
      }
      if(stroke) parts.forEach(sg=>{ if(sg.length>1) kids.push({type:'polyline',shape:{points:sg.map(px)},style:{fill:null,stroke:'#000',lineWidth:1.1},clipPath:clip}); });
      return {type:'group',children:kids};
    }});
});

/* ---- Titles ---- */
const txt=(s,x,y,size,rot,bold)=>({type:'text',x,y,rotation:(rot||0)*Math.PI/180,silent:true,style:{text:s,fontSize:size,fontFamily:FONT,fontWeight:bold?'bold':'normal',fill:'#000',stroke:'#000',lineWidth:0.4,textAlign:'center',textVerticalAlign:'middle',verticalAlign:'middle'}});
const graphics=[
  txt(columnTitles[0],432.7,67.5,56.5),txt(columnTitles[1],970,67.5,56.5),txt(columnTitles[2],1506,67.5,56.5),
  txt('Depth (m)',70.7,492.4,49,90),txt('Depth (m)',70.7,1371,49,90),
  txt(rowTitles[0],1817,492,49,90,true),txt(rowTitles[1],1817,1371,49,90,true),
  txt('Latitude (N)',970,1840,49)
];

const chart=echarts.init(document.getElementById('c'),null,{renderer:'canvas',width:1911,height:1854});
chart.setOption({
  animation:false,
  backgroundColor:{type:'linear',x:0,y:0,x2:0,y2:1,colorStops:[{offset:0,color:'#FFFBCF'},{offset:0.5,color:'#FFFDE0'},{offset:1,color:'#FFFFF2'}]},
  grid:grids,xAxis:xAxes,yAxis:yAxes,series,graphic:{elements:graphics}
});
</script></body></html>
